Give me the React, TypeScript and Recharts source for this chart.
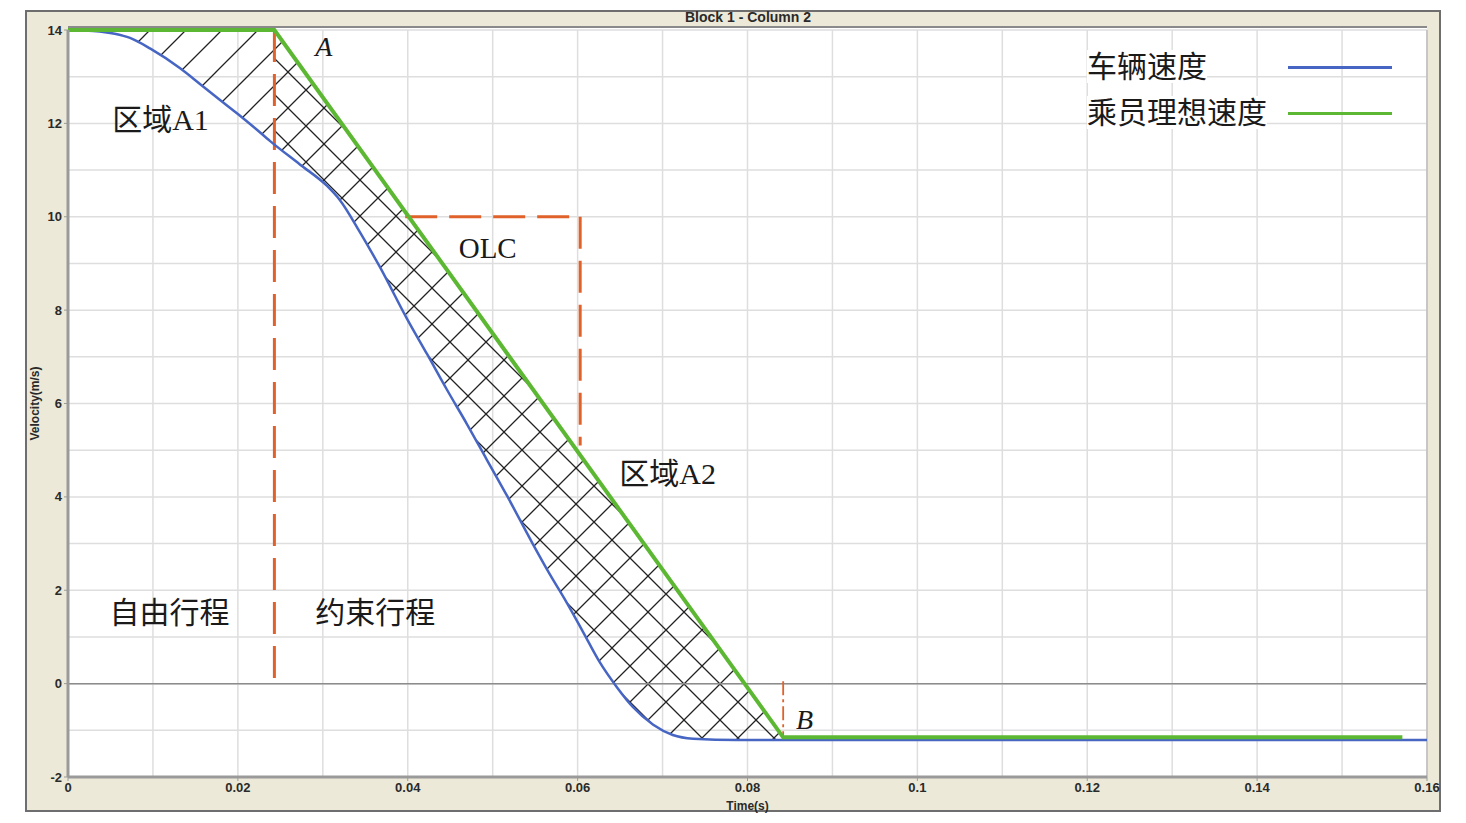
import {
  ComposedChart,
  Line,
  Area,
  XAxis,
  YAxis,
  CartesianGrid,
  ReferenceLine,
  ReferenceDot,
  Legend,
} from 'recharts'

// vehicle speed (blue)
const blueTime = [
  0, 0.003, 0.0055, 0.0073, 0.0097, 0.0132, 0.0155, 0.0179, 0.02, 0.022, 0.0238, 0.0273,
  0.0305, 0.032, 0.0344, 0.0367, 0.0399, 0.0423, 0.0446, 0.047, 0.0493, 0.0517, 0.0547,
  0.0567, 0.0587, 0.0606, 0.0626, 0.0646, 0.0665, 0.0689, 0.0712, 0.0736, 0.0788, 0.16,
]
const blueSpeed = [
  14, 13.98, 13.92, 13.83, 13.6, 13.18, 12.85, 12.5, 12.2, 11.9, 11.62, 11.12,
  10.66, 10.36, 9.66, 8.93, 7.82, 7.05, 6.3, 5.55, 4.8, 4.02, 3.0,
  2.35, 1.74, 1.12, 0.46, -0.07, -0.5, -0.88, -1.1, -1.18, -1.21, -1.21,
]

// occupant ideal speed (green)
const greenTime = [0, 0.0243, 0.0842, 0.1571]
const greenSpeed = [14, 14, -1.15, -1.15]

const xTicks = [0, 0.02, 0.04, 0.06, 0.08, 0.1, 0.12, 0.14, 0.16]
const yTicks = [-2, 0, 2, 4, 6, 8, 10, 12, 14]
const xGrid = [0, 0.01, 0.02, 0.03, 0.04, 0.05, 0.06, 0.07, 0.08, 0.09, 0.1, 0.11, 0.12, 0.13, 0.14, 0.15, 0.16]
const yGrid = [-2, -1, 0, 1, 2, 3, 4, 5, 6, 7, 8, 9, 10, 11, 12, 13, 14]

const pointA = 0.0243
const pointB = 0.0842
const olcTime = [0.0397, 0.0603]
const olcSpeed = [10, 5.1]

const legendNames = ['车辆速度', '乘员理想速度']
const legendColors = ['#4766c4', '#5cb833']

const notes = [
  { t: 0.0291, v: 13.44, text: 'A', size: 28, italic: true },
  { t: 0.0052, v: 11.86, text: '区域A1', size: 30, italic: false },
  { t: 0.046, v: 9.12, text: 'OLC', size: 29, italic: false },
  { t: 0.0649, v: 4.28, text: '区域A2', size: 30, italic: false },
  { t: 0.0049, v: 1.3, text: '自由行程', size: 30, italic: false },
  { t: 0.0291, v: 1.3, text: '约束行程', size: 30, italic: false },
  { t: 0.0857, v: -0.97, text: 'B', size: 28, italic: true },
]

const serif = "'Liberation Serif', 'Times New Roman', 'Noto Sans CJK SC', serif"
const axisFont = "'Liberation Sans', Arial, sans-serif"
const orange = '#e0622a'

const blueData = blueTime.map((t, i) => ({ t, v: blueSpeed[i] }))
const greenData = greenTime.map((t, i) => ({ t, v: greenSpeed[i] }))

function valueAt(ts: number[], vs: number[], t: number) {
  for (let i = 1; i < ts.length; i++) {
    if (t <= ts[i]) {
      const k = (t - ts[i - 1]) / (ts[i] - ts[i - 1])
      return vs[i - 1] + k * (vs[i] - vs[i - 1])
    }
  }
  return vs[vs.length - 1]
}

// band between the two curves, used for the hatching
function band(t0: number, t1: number) {
  const ts = [t0, ...blueTime.filter((t) => t > t0 && t < t1), t1]
  return ts.map((t) => ({
    t,
    band: [valueAt(blueTime, blueSpeed, t), valueAt(greenTime, greenSpeed, t)],
  }))
}

const bandA1 = band(0, pointA)
const bandA2 = band(pointA, pointB)

const NoteText = ({ viewBox, note }: any) => {
  const x = viewBox.x + viewBox.width / 2
  const y = viewBox.y + viewBox.height / 2
  return (
    <text
      x={x}
      y={y}
      fontFamily={serif}
      fontSize={note.size}
      fontStyle={note.italic ? 'italic' : 'normal'}
      fill="#1a1a1a"
    >
      {note.text}
    </text>
  )
}

const LegendBox = () => (
  <div style={{ fontFamily: serif, fontSize: 30, color: '#1a1a1a' }}>
    {legendNames.map((name, i) => (
      <div key={name} style={{ display: 'flex', alignItems: 'center', height: 46 }}>
        <div style={{ width: 201 }}>
          <span style={{ background: '#fff', lineHeight: '34px' }}>{name}</span>
        </div>
        <div style={{ width: 104, height: 3, background: legendColors[i] }} />
      </div>
    ))}
  </div>
)

const tickStyle = { fill: '#2a2a2a', fontSize: 13, fontWeight: 'bold', fontFamily: axisFont }

export default function App() {
  return (
    <div style={{ position: 'relative', width: 1466, height: 823, margin: -8, background: '#fff' }}>
      <div
        style={{
          position: 'absolute',
          left: 25,
          top: 10,
          width: 1416,
          height: 802,
          background: '#ece9d8',
          border: '2px solid #6e6e6e',
          boxSizing: 'border-box',
        }}
      />
      <div
        style={{
          position: 'absolute',
          left: 648,
          top: 9,
          width: 200,
          textAlign: 'center',
          fontFamily: axisFont,
          fontWeight: 'bold',
          fontSize: 14,
          color: '#2a2a2a',
        }}
      >
        Block 1 - Column 2
      </div>
      <div
        style={{
          position: 'absolute',
          left: 68,
          top: 26,
          width: 1359,
          height: 5,
          background: '#fff',
          borderTop: '2px solid #8a8a8a',
          boxSizing: 'border-box',
        }}
      />
      <div style={{ position: 'absolute', left: 0, top: 0 }}>
        <ComposedChart width={1466} height={823} margin={{ top: 30, right: 39, bottom: 16, left: 28 }}>
          <defs>
            <pattern id="hatchA1" patternUnits="userSpaceOnUse" width="36" height="36">
              <path d="M-6,6 L6,-6 M0,36 L36,0 M30,42 L42,30" stroke="#222" strokeWidth="1.3" />
            </pattern>
            <pattern id="hatchA2" patternUnits="userSpaceOnUse" width="36" height="36">
              <path
                d="M-6,6 L6,-6 M0,36 L36,0 M30,42 L42,30 M-6,30 L6,42 M0,0 L36,36 M30,-6 L42,6"
                stroke="#222"
                strokeWidth="1.3"
              />
            </pattern>
          </defs>
          <CartesianGrid
            fill="#ffffff"
            stroke="#dedede"
            strokeWidth={1.5}
            verticalValues={xGrid}
            horizontalValues={yGrid}
          />
          <XAxis
            type="number"
            dataKey="t"
            domain={[0, 0.16]}
            ticks={xTicks}
            height={30}
            tickSize={4}
            tickMargin={2}
            stroke="#9a9a9a"
            axisLine={{ stroke: '#9a9a9a', strokeWidth: 3 }}
            tick={tickStyle}
            label={({ viewBox }: any) => (
              <text
                x={viewBox.x + viewBox.width / 2}
                y={viewBox.y + 33}
                textAnchor="middle"
                fontFamily={axisFont}
                fontWeight="bold"
                fontSize={12}
                fill="#2a2a2a"
              >
                Time(s)
              </text>
            )}
          />
          <YAxis
            type="number"
            domain={[-2, 14]}
            ticks={yTicks}
            width={40}
            tickSize={4}
            tickMargin={2}
            stroke="#9a9a9a"
            axisLine={{ stroke: '#9a9a9a', strokeWidth: 3 }}
            tick={tickStyle}
            label={({ viewBox }: any) => {
              const x = viewBox.x + 11
              const y = viewBox.y + viewBox.height / 2
              return (
                <text
                  x={x}
                  y={y}
                  transform={`rotate(-90, ${x}, ${y})`}
                  textAnchor="middle"
                  fontFamily={axisFont}
                  fontWeight="bold"
                  fontSize={12}
                  fill="#2a2a2a"
                >
                  Velocity(m/s)
                </text>
              )
            }}
          />
          <ReferenceLine y={0} stroke="#8c8c8c" strokeWidth={1.5} />
          <ReferenceLine x={0.16} stroke="#bdbdbd" strokeWidth={1.5} />
          <Area
            data={bandA1}
            dataKey="band"
            type="monotone"
            stroke="none"
            fill="url(#hatchA1)"
            fillOpacity={1}
            isAnimationActive={false}
          />
          <Area
            data={bandA2}
            dataKey="band"
            type="monotone"
            stroke="none"
            fill="url(#hatchA2)"
            fillOpacity={1}
            isAnimationActive={false}
          />
          <ReferenceLine
            segment={[
              { x: pointA, y: 14 },
              { x: pointA, y: 0 },
            ]}
            stroke={orange}
            strokeWidth={3}
            strokeDasharray="32 12"
          />
          <ReferenceLine
            segment={[
              { x: olcTime[0], y: olcSpeed[0] },
              { x: olcTime[1], y: olcSpeed[0] },
            ]}
            stroke={orange}
            strokeWidth={3}
            strokeDasharray="32 12"
          />
          <ReferenceLine
            segment={[
              { x: olcTime[1], y: olcSpeed[0] },
              { x: olcTime[1], y: olcSpeed[1] },
            ]}
            stroke={orange}
            strokeWidth={3}
            strokeDasharray="32 12"
          />
          <ReferenceLine
            segment={[
              { x: pointB, y: 0.05 },
              { x: pointB, y: -1.1 },
            ]}
            stroke={orange}
            strokeWidth={1.8}
            strokeDasharray="14 4 3 4"
          />
          <Line
            data={blueData}
            dataKey="v"
            type="monotone"
            stroke="#4766c4"
            strokeWidth={2.5}
            dot={false}
            isAnimationActive={false}
          />
          <Line
            data={greenData}
            dataKey="v"
            type="linear"
            stroke="#5cb833"
            strokeWidth={4}
            dot={false}
            isAnimationActive={false}
          />
          {notes.map((n) => (
            <ReferenceDot
              key={n.text}
              x={n.t}
              y={n.v}
              r={1}
              fill="none"
              stroke="none"
              label={(p: any) => <NoteText viewBox={p.viewBox} note={n} />}
            />
          ))}
          <Legend
            layout="vertical"
            verticalAlign="middle"
            align="center"
            content={() => <LegendBox />}
            wrapperStyle={{ position: 'absolute', top: 44, left: 1087, width: 320 }}
          />
        </ComposedChart>
      </div>
    </div>
  )
}
